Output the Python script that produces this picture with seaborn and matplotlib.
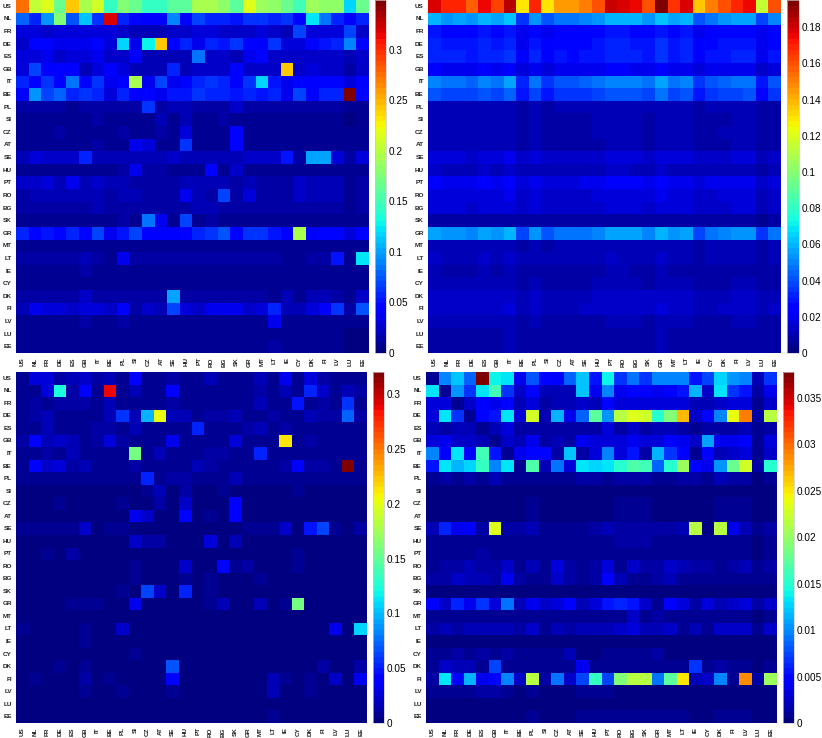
import numpy as np
import pandas as pd
import matplotlib
matplotlib.use("Agg")
import matplotlib.pyplot as plt
import seaborn as sns

countries = ["US","NL","FR","DE","ES","GB","IT","BE","PL","SI","CZ","AT","SE","HU","PT","RO","BG","SK","GR","MT","LT","IE","CY","DK","FI","LV","LU","EE"]

# panel A, units of 0.001
panel_a = [
[275,205,215,165,240, 195,212,145,175,165, 145,145,160,160,195, 195,180,160,215,190, 185,165,150,190,185, 185,115,165],
[80,55,95,175,75, 110,65,320,55,45, 40,40,90,45,70, 55,55,50,65,60, 55,65,45,125,85, 55,40,55],
[30,30,25,30,30, 30,30,30,25,20, 20,20,25,25,30, 30,25,25,25,30, 25,20,70,30,30, 30,70,22],
[25,45,45,35,35, 35,45,30,115,35, 130,240,45,55,35, 55,50,60,45,40, 60,30,30,45,50, 55,90,45],
[30,30,35,22,28, 28,35,25,25,40, 20,20,20,20,85, 25,25,20,35,45, 25,25,25,25,25, 25,20,22],
[30,70,40,45,40, 20,30,40,30,18, 18,18,55,20,25, 25,25,45,25,25, 25,240,25,30,25, 25,15,25],
[55,45,65,40,85, 45,60,35,40,195, 35,70,35,45,55, 60,55,40,65,115, 50,35,45,40,45, 45,28,40],
[45,95,70,80,55, 65,55,30,55,40, 45,35,50,50,65, 55,55,50,55,50, 55,38,70,45,55, 55,349,45],
[12,15,14,12,10, 12,12,12,12,12, 65,12,18,20,12, 15,12,22,12,12, 15,12,12,15,12, 12,8,10],
[10,10,10,10,10, 10,12,8,10,10, 10,20,8,20,10, 10,15,10,10,10, 10,10,10,10,10, 10,5,8],
[10,10,10,12,10, 10,10,10,16,10, 10,15,10,28,10, 10,10,45,10,10, 10,10,10,10,10, 10,6,8],
[10,10,10,10,10, 10,12,9,10,38, 28,10,10,60,10, 10,8,45,10,10, 10,10,10,10,10, 10,6,8],
[20,30,25,25,25, 55,20,20,20,18, 18,18,25,20,20, 20,20,20,25,25, 25,50,15,100,100, 30,12,28],
[10,10,10,10,10, 10,10,9,12,38, 12,12,9,9,9, 40,10,25,10,10, 10,10,10,10,10, 10,7,9],
[22,22,28,18,35, 20,22,18,20,15, 15,15,15,18,20, 20,18,15,18,14, 14,14,22,18,18, 18,10,14],
[16,18,18,18,18, 18,20,14,18,18, 16,16,16,38,18, 16,70,16,28,14, 14,16,22,18,18, 18,10,14],
[14,14,16,14,14, 16,18,14,16,16, 16,16,14,16,18, 20,14,14,14,14, 14,14,14,16,16, 16,10,12],
[10,10,10,10,10, 10,10,10,14,8, 85,35,8,70,8, 12,10,8,10,8, 10,8,8,8,8, 8,6,6],
[55,45,50,45,55, 45,70,38,50,70, 40,40,40,45,55, 60,75,45,60,65, 50,40,195,40,45, 45,30,40],
[8,8,8,8,9, 10,10,8,8,8, 8,8,8,8,8, 8,10,8,10,10, 8,8,8,8,8, 8,6,7],
[12,12,12,12,12, 18,14,10,35,12, 12,12,12,12,12, 12,12,12,12,12, 12,10,10,12,12, 50,8,125],
[8,8,8,8,8, 12,8,8,8,8, 8,8,8,8,8, 8,8,8,8,8, 8,8,8,8,8, 8,6,6],
[8,8,8,8,8, 6,8,8,8,10, 8,8,8,8,8, 8,8,8,8,8, 8,8,8,8,8, 8,6,6],
[14,16,14,14,14, 25,12,12,14,12, 12,12,100,12,12, 12,12,12,12,12, 10,18,10,18,20, 14,8,25],
[20,35,28,28,22, 30,30,25,40,15, 22,18,70,30,25, 35,38,35,25,30, 55,20,18,30,40, 65,12,75],
[8,8,8,8,8, 14,8,8,12,8, 8,8,8,8,8, 8,8,8,8,8, 35,8,8,10,8, 8,6,6],
[6,6,6,6,6, 6,6,6,6,6, 6,6,6,6,6, 6,6,6,6,6, 6,6,6,6,6, 6,4,5],
[6,6,6,6,6, 6,6,6,6,6, 6,6,6,6,6, 6,6,6,6,6, 14,6,6,6,6, 6,4,5],
]

# panel B, units of 0.001
panel_b = [
[178,170,170,158,175, 162,185,130,170,130, 145,145,150,160,180, 178,175,160,195,165, 178,135,150,160,170, 175,115,160],
[60,54,55,53,58, 55,62,36,54,40, 48,48,50,54,60, 60,58,53,63,55, 58,40,48,52,56, 57,38,50],
[28,27,27,26,28, 27,30,20,27,21, 24,24,24,25,28, 28,27,25,30,26, 28,21,24,25,27, 27,19,24],
[31,30,30,29,31, 30,33,21,30,23, 27,26,26,28,31, 31,30,28,34,29, 31,22,26,28,30, 30,20,26],
[33,31,31,30,33, 31,35,22,31,24, 28,27,28,30,33, 33,32,29,36,30, 32,23,28,29,31, 32,21,28],
[22,21,21,20,22, 21,24,17,21,18, 19,19,19,20,22, 22,21,20,24,20, 21,18,19,20,21, 21,15,18],
[50,46,47,45,50, 47,55,33,47,36, 42,41,43,46,51, 51,50,46,56,47, 50,36,42,45,48, 48,30,42],
[42,38,38,37,40, 38,45,28,39,29, 34,34,35,37,42, 41,40,37,46,38, 41,29,34,37,39, 40,24,35],
[11,11,11,10,11, 11,12,9,11,9, 10,10,10,10,11, 11,11,10,12,10, 11,9,10,10,11, 11,8,9],
[10,10,10,10,10, 10,11,8,10,8, 9,9,9,10,10, 10,10,9,11,10, 10,8,9,9,10, 10,7,8],
[11,11,11,10,11, 10,11,9,10,9, 9,9,9,10,10, 10,10,9,11,10, 10,8,9,10,10, 10,7,8],
[10,10,10,10,10, 10,11,8,10,8, 9,9,9,9,10, 10,10,9,11,10, 10,8,9,9,10, 10,7,8],
[17,16,16,15,17, 16,19,13,16,13, 14,14,15,15,17, 17,16,15,18,16, 16,13,15,15,16, 16,12,14],
[13,12,12,12,13, 12,14,10,12,10, 11,11,11,12,13, 13,12,11,14,12, 12,10,11,12,12, 12,9,10],
[22,21,21,20,22, 21,23,16,21,17, 18,18,19,20,22, 22,22,20,24,20, 21,17,19,20,21, 21,15,18],
[18,17,17,16,18, 17,19,13,17,14, 15,15,15,16,18, 18,17,16,19,16, 17,14,15,16,17, 17,12,15],
[17,16,16,15,17, 16,18,13,16,13, 14,14,15,15,17, 17,16,15,18,16, 16,13,14,15,16, 16,12,14],
[9,8,8,8,9, 8,9,7,8,7, 7,7,8,8,9, 9,8,8,9,8, 8,7,7,8,8, 8,6,7],
[56,53,54,50,55, 52,60,38,53,40, 46,46,47,50,57, 57,55,50,60,52, 55,38,46,50,54, 54,34,48],
[12,11,11,11,12, 11,12,9,11,9, 10,10,10,11,12, 12,11,10,12,11, 11,9,10,10,11, 11,8,10],
[13,12,12,12,13, 12,13,10,12,10, 11,11,11,12,13, 12,12,11,13,12, 12,9,11,11,12, 12,9,11],
[10,9,9,9,10, 9,10,8,9,8, 8,8,9,9,10, 10,9,9,10,9, 9,8,8,9,9, 9,7,8],
[10,10,10,10,10, 10,11,8,10,8, 9,9,9,10,10, 10,10,9,11,10, 10,8,9,9,10, 10,7,8],
[14,13,13,13,14, 13,15,10,13,11, 12,12,12,13,14, 14,14,13,15,13, 14,11,12,12,13, 13,10,12],
[15,14,14,14,15, 14,16,11,14,12, 12,12,13,14,15, 15,15,14,16,14, 15,11,12,13,14, 14,11,13],
[10,10,10,10,10, 10,11,8,10,8, 9,9,9,9,10, 10,10,9,11,10, 10,8,9,9,10, 10,7,8],
[9,9,9,9,9, 9,10,8,9,8, 8,8,8,9,9, 9,9,8,10,9, 9,8,8,8,9, 9,7,8],
[9,9,9,9,9, 9,10,8,9,8, 8,8,8,9,9, 9,9,8,10,9, 9,8,8,8,9, 9,7,8],
]

# panel C, units of 0.001
panel_c = [
[8,30,30,12,18, 22,15,18,8,38, 8,8,14,8,8, 16,8,8,8,20, 8,32,8,26,14, 8,8,8],
[10,6,30,125,12, 38,8,290,8,18, 8,8,36,8,10, 8,8,8,8,12, 8,18,8,55,24, 8,18,12],
[10,14,8,12,12, 14,8,18,8,8, 8,8,12,8,8, 8,8,10,8,16, 8,8,50,10,12, 8,60,8],
[6,14,18,6,8, 10,8,16,60,18, 100,205,16,20,8, 14,12,20,8,8, 12,10,8,18,12, 12,75,12],
[10,10,18,8,8, 10,12,14,8,18, 8,8,8,8,55, 8,8,8,12,20, 8,12,8,8,8, 8,8,8],
[14,42,16,25,20, 6,12,30,12,6, 6,6,35,6,10, 6,6,26,10,6, 6,215,6,14,8, 8,6,10],
[8,10,14,6,20, 8,6,10,8,160, 6,20,8,8,8, 14,12,6,10,55, 6,8,10,8,8, 6,6,6],
[10,38,22,28,12, 20,10,8,10,14, 10,10,10,10,16, 12,10,10,10,10, 8,14,36,12,12, 8,320,8],
[6,10,6,8,6, 6,6,6,6,8, 55,8,12,14,6, 10,6,18,6,6, 8,6,6,8,6, 6,6,8],
[5,5,5,5,5, 5,5,5,5,5, 8,18,5,12,5, 5,8,5,5,5, 5,5,6,5,5, 5,5,5],
[5,5,5,7,5, 5,5,5,10,5, 5,14,5,22,5, 5,5,40,5,5, 5,5,5,5,5, 5,5,5],
[5,5,5,5,5, 5,5,5,5,32, 22,5,5,45,5, 6,5,38,5,5, 5,5,5,5,5, 5,5,5],
[6,10,8,10,10, 24,5,10,6,5, 5,5,5,5,5, 5,5,5,8,10, 8,24,5,50,65, 8,5,14],
[5,5,5,5,5, 5,5,5,5,24, 14,14,5,5,5, 30,5,20,5,5, 5,5,5,5,5, 5,5,5],
[5,5,7,5,12, 5,5,5,5,5, 5,5,5,5,5, 5,5,5,5,5, 5,5,10,5,5, 5,5,5],
[5,5,5,5,5, 5,5,5,5,10, 5,5,5,22,5, 5,45,10,12,5, 5,5,10,5,5, 5,5,5],
[5,5,5,5,5, 5,5,5,5,9, 5,5,5,10,5, 9,5,5,5,6, 5,5,5,5,5, 5,5,5],
[5,5,5,5,5, 5,5,5,10,5, 65,24,5,55,5, 9,5,5,5,5, 5,5,5,5,5, 5,5,5],
[5,5,5,5,6, 6,10,5,5,32, 5,5,5,5,5, 8,18,5,5,16, 5,10,160,5,5, 5,5,5],
[4,4,4,4,4, 4,4,4,4,4, 4,4,4,4,4, 4,4,4,4,4, 4,4,4,4,4, 4,4,4],
[7,5,5,5,5, 10,5,5,22,5, 5,5,5,5,5, 5,5,5,5,5, 5,5,5,5,5, 35,5,110],
[4,4,4,4,4, 10,4,4,4,4, 4,4,4,4,4, 4,4,4,4,4, 4,4,4,4,4, 4,4,4],
[4,4,4,4,4, 4,4,4,4,7, 4,4,4,4,4, 4,4,4,4,4, 4,4,4,4,4, 4,4,4],
[5,5,5,7,5, 8,5,5,5,5, 5,5,70,5,5, 5,5,5,5,5, 5,5,5,5,12, 5,5,12],
[5,7,5,5,5, 12,5,9,5,5, 5,5,45,5,5, 5,5,5,5,5, 16,7,5,8,5, 22,5,35],
[4,4,4,4,4, 9,4,4,7,4, 4,4,7,4,4, 4,4,4,4,4, 18,4,4,6,4, 4,4,4],
[4,4,4,4,4, 4,4,4,4,4, 4,4,4,4,4, 4,4,4,4,4, 4,4,4,4,4, 4,4,4],
[4,4,4,4,4, 4,4,4,4,4, 4,4,4,4,4, 4,4,4,4,4, 8,4,4,4,4, 4,4,4],
]

# panel D, units of 0.0001
panel_d = [
[6,100,120,85,378, 140,135,40,80,50, 45,85,120,55,140, 70,90,65,95,95, 95,55,75,125,105, 95,20,65],
[130,8,105,70,135, 165,70,25,50,18, 20,20,120,38,100, 40,50,42,38,45, 55,115,25,130,65, 55,12,40],
[32,35,8,28,45, 38,48,20,35,14, 20,20,25,22,50, 30,32,30,30,32, 35,20,20,25,30, 35,10,25],
[35,130,70,8,50, 55,135,35,225,18, 115,40,85,175,105, 215,235,225,150,190, 270,25,42,100,240, 290,15,215],
[20,16,22,18,8, 20,30,14,15,12, 14,14,15,15,35, 16,25,14,20,18, 16,8,14,14,15, 18,8,14],
[35,38,25,28,22, 6,26,18,40,12, 22,15,38,32,35, 32,38,35,35,45, 40,28,110,40,38, 45,10,30],
[100,45,135,50,165, 55,8,40,50,50, 16,120,14,30,100, 30,55,14,115,65, 45,10,50,18,28, 30,10,25],
[55,135,115,125,155, 95,135,8,170,22, 90,35,130,125,135, 150,170,165,85,150, 205,48,40,105,180, 225,14,150],
[8,14,10,12,8, 18,10,6,8,6, 8,8,14,12,10, 14,14,14,10,10, 12,14,6,20,14, 12,5,10],
[5,5,5,5,5, 5,5,5,5,5, 5,5,5,5,5, 5,5,5,5,5, 5,5,5,5,5, 5,5,5],
[5,5,5,5,5, 5,5,5,7,5, 5,5,5,5,5, 6,6,6,5,5, 5,5,5,6,6, 6,5,5],
[5,5,5,5,5, 5,5,5,7,5, 5,5,5,5,5, 6,6,6,5,5, 5,5,5,6,6, 6,5,5],
[18,60,38,42,15, 235,14,16,18,7, 8,10,7,16,18, 15,15,14,12,15, 18,215,5,215,40, 18,6,14],
[6,6,6,6,6, 6,8,8,10,10, 8,8,7,6,8, 14,14,12,10,8, 10,6,6,6,6, 6,5,6],
[8,7,9,7,12, 7,6,6,6,6, 6,6,6,6,6, 6,6,6,6,6, 6,6,6,6,6, 6,5,6],
[10,14,16,18,14, 12,26,8,18,8, 32,14,10,16,30, 8,24,14,16,24, 18,12,16,10,16, 18,7,16],
[16,14,25,20,22, 16,38,14,8,8, 28,16,10,12,42, 18,8,8,16,18, 8,8,10,7,6, 7,6,6],
[5,5,5,5,5, 5,5,5,5,5, 5,5,5,5,5, 5,5,5,5,5, 5,5,5,5,5, 5,5,5],
[45,28,60,38,70, 30,90,20,36,28, 32,45,18,30,55, 60,55,25,8,45, 35,16,32,18,28, 32,14,25],
[6,6,8,8,10, 8,10,6,8,10, 8,6,6,6,10, 7,24,7,16,7, 6,6,10,6,6, 6,5,6],
[14,22,16,20,18, 22,20,12,25,10, 18,12,22,22,22, 26,30,22,18,24, 8,20,10,24,24, 28,8,24],
[4,4,4,4,4, 4,4,4,4,4, 4,4,4,4,4, 4,4,4,4,4, 4,4,4,4,4, 4,4,4],
[6,6,12,8,16, 8,14,6,6,6, 6,18,5,5,8, 6,6,6,12,5, 5,5,5,5,5, 5,5,5],
[8,24,18,18,8, 75,6,10,6,6, 6,6,40,6,8, 6,6,6,6,6, 6,65,6,14,6, 6,5,6],
[16,130,50,115,40, 50,95,24,215,14, 90,28,75,155,75, 190,215,215,90,175, 250,22,28,95,6, 285,12,205],
[6,7,8,7,14, 12,7,5,6,5, 5,5,10,6,10, 5,5,5,5,5, 5,5,5,5,5, 5,5,5],
[4,4,4,4,4, 4,4,4,4,4, 4,4,4,4,4, 4,4,4,4,4, 4,4,4,4,4, 4,4,4],
[5,5,5,5,5, 5,5,5,7,5, 5,5,6,6,6, 6,6,6,6,6, 6,5,5,7,7, 7,5,5],
]

ticks_a = [0, 0.05, 0.1, 0.15, 0.2, 0.25, 0.3]
ticks_b = [0, 0.02, 0.04, 0.06, 0.08, 0.1, 0.12, 0.14, 0.16, 0.18]
ticks_c = [0, 0.05, 0.1, 0.15, 0.2, 0.25, 0.3]
ticks_d = [0, 0.005, 0.01, 0.015, 0.02, 0.025, 0.03, 0.035]

W, H = 822, 738
sns.set_theme(style="white")
plt.rcParams["font.family"] = ["Liberation Sans", "DejaVu Sans"]
fig = plt.figure(figsize=(W / 100, H / 100), dpi=100)
cmap = plt.get_cmap("jet", 64)


def rect(x0, x1, y0, y1):
    return [x0 / W, 1 - y1 / H, (x1 - x0) / W, (y1 - y0) / H]


def panel(rows, unit, vmax, ticks, box, cbox):
    ax = fig.add_axes(rect(*box))
    cax = fig.add_axes(rect(*cbox))
    frame = pd.DataFrame(np.array(rows) * unit, index=countries, columns=countries)
    sns.heatmap(frame, ax=ax, cbar_ax=cax, cmap=cmap, vmin=0, vmax=vmax,
                xticklabels=True, yticklabels=True, cbar_kws={"ticks": ticks})
    ax.tick_params(axis="both", length=0, labelsize=4.6, pad=3)
    ax.set_xticklabels(countries, rotation=90, fontweight="bold", color="#222222")
    ax.set_yticklabels(countries, rotation=0, fontweight="bold", color="#222222")
    cbar = ax.collections[0].colorbar
    cbar.ax.tick_params(length=0, labelsize=7.2, pad=2)
    cbar.set_ticklabels([f"{t:g}" for t in ticks], color="black")
    cbar.outline.set_edgecolor("#c8c8c8")
    cbar.outline.set_linewidth(0.5)


panel(panel_a, 0.001, 0.349, ticks_a, (16, 369, 0, 353), (375, 386, 0, 353))
panel(panel_b, 0.001, 0.195, ticks_b, (428, 781, 0, 353), (787, 799, 0, 353))
panel(panel_c, 0.001, 0.3205, ticks_c, (16, 367, 372, 723), (373, 384, 372, 723))
panel(panel_d, 0.0001, 0.0378, ticks_d, (426, 777, 372, 723), (783, 794, 372, 723))

fig.savefig("out.png", dpi=100)
